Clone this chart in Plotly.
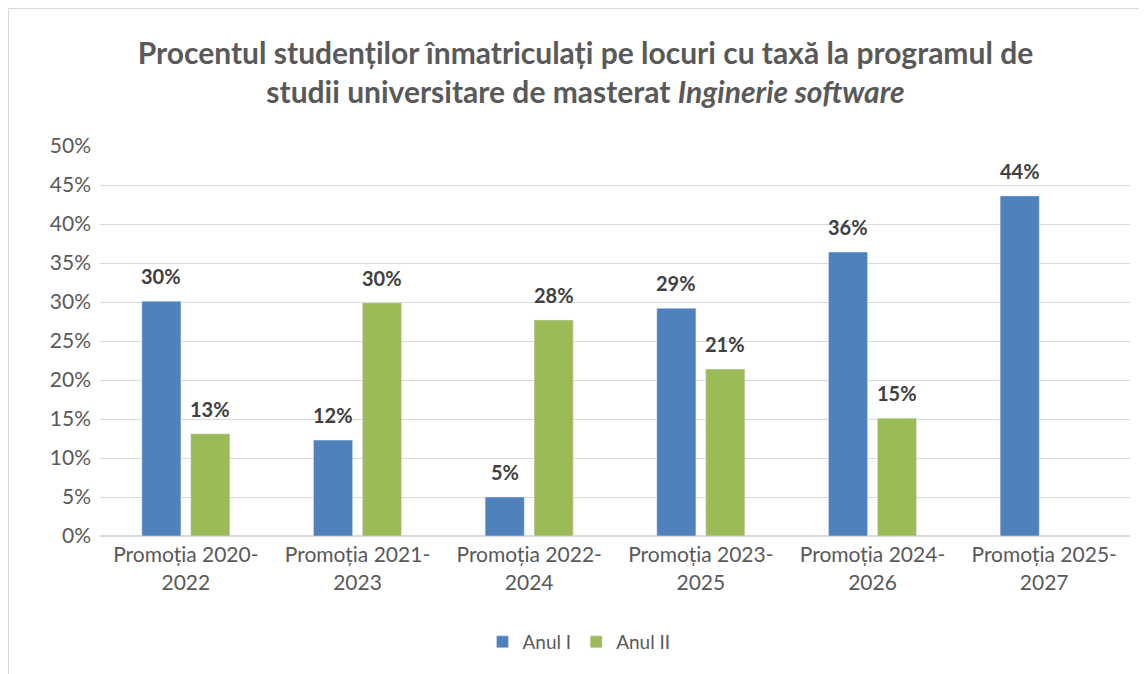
import plotly.graph_objects as go

categories = ["Promoția 2020-<br>2022", "Promoția 2021-<br>2023", "Promoția 2022-<br>2024",
              "Promoția 2023-<br>2025", "Promoția 2024-<br>2026", "Promoția 2025-<br>2027"]
anul_I = [0.301, 0.123, 0.050, 0.292, 0.364, 0.436]
anul_II = [0.131, 0.299, 0.277, 0.214, 0.151, None]
tick_vals = [0, 0.05, 0.10, 0.15, 0.20, 0.25, 0.30, 0.35, 0.40, 0.45, 0.50]

BLUE = "#4F81BD"
GREEN = "#9BBB59"
FONT = "Lato"

W, H = 1139, 666
L, R, T, B = 92, 17, 138, 138
PW = W - L - R
PH = H - T - B

fig = go.Figure()
fig.add_trace(go.Bar(name="Anul I", x=categories, y=anul_I, marker_color=BLUE))
fig.add_trace(go.Bar(name="Anul II", x=categories, y=anul_II, marker_color=GREEN))

annotations = []
for vals, dx in ((anul_I, -24.5), (anul_II, 24.5)):
    for cat, v in zip(categories, vals):
        if v is not None:
            annotations.append(dict(x=cat, y=v, text=f"{round(v*100)}%", showarrow=False,
                                    xshift=dx, yshift=11, yanchor="bottom",
                                    font=dict(family=FONT, size=20, color="#404040", weight="bold")))

fig.update_layout(
    width=W, height=H,
    margin=dict(l=L, r=R, t=T, b=B),
    paper_bgcolor="white", plot_bgcolor="white",
    barmode="group", bargap=0.43, bargroupgap=0.2,
    title=dict(text="<b>Procentul studenților înmatriculați pe locuri cu taxă la programul de<br>studii universitare de masterat <i>Inginerie software</i></b>",
               x=0.507, xanchor="center", y=1 - 56/H, yanchor="top",
               font=dict(family=FONT, size=30, color="#595959")),
    font=dict(family=FONT, color="#595959"),
    legend=dict(orientation="h", x=0.465, xanchor="center", y=(PH - (642 - 8 - T)) / PH, yanchor="middle",
                font=dict(family=FONT, size=19, color="#595959"), itemwidth=30, traceorder="normal"),
    annotations=annotations,
    shapes=[dict(type="rect", xref="paper", yref="paper",
                 x0=(0.5 - L)/PW, x1=1.2, y0=-0.6, y1=(PH + T - 0.5)/PH,
                 line=dict(color="#D9D9D9", width=1), layer="below")],
)
fig.update_yaxes(range=[0, 0.5], tickvals=tick_vals, tickformat=".0%",
                 showgrid=True, gridcolor="#D9D9D9", gridwidth=1,
                 zeroline=True, zerolinecolor="#D9D9D9",
                 tickfont=dict(family=FONT, size=21, color="#595959"), ticklabelstandoff=8)
fig.update_xaxes(tickfont=dict(family=FONT, size=21, color="#595959"),
                 showline=True, linecolor="#D9D9D9", ticks="")

fig.write_html("out.html")
